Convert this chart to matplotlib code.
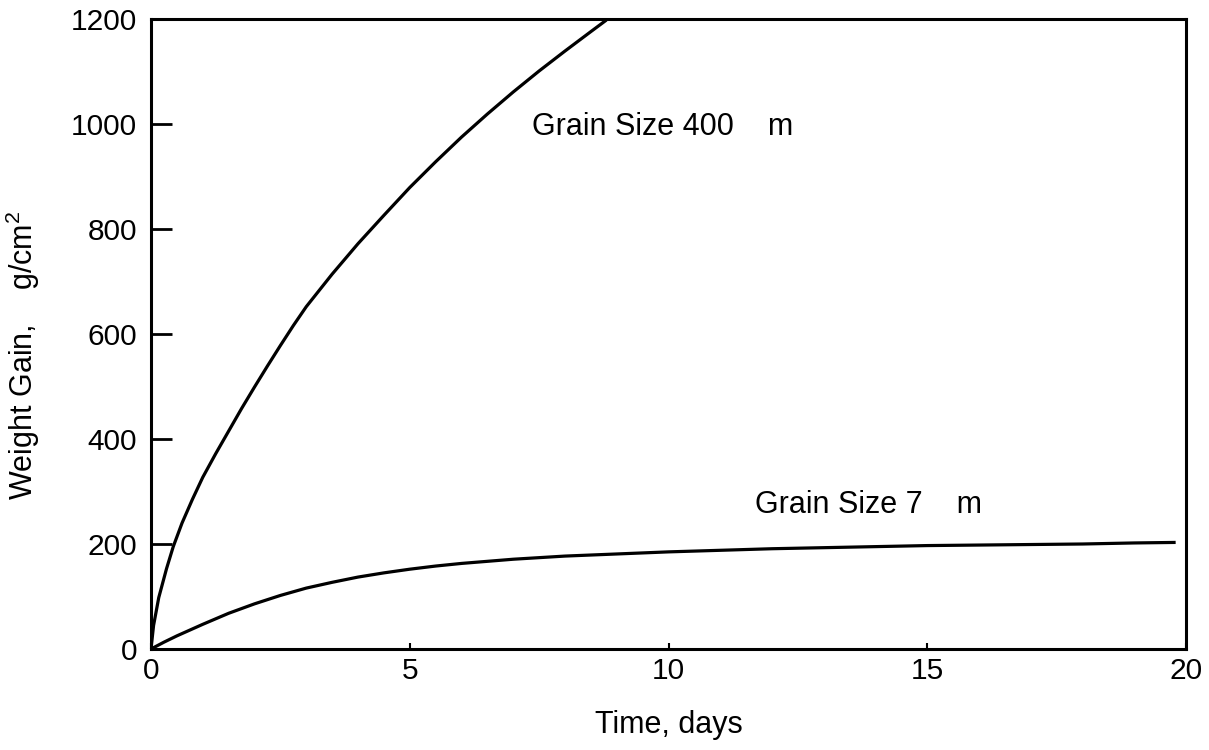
import matplotlib
matplotlib.use("Agg")
import matplotlib.pyplot as plt

plt.rcParams['font.family'] = ['Liberation Sans', 'DejaVu Sans']
plt.rcParams['mathtext.fontset'] = 'custom'
plt.rcParams['mathtext.rm'] = 'Liberation Sans'
plt.rcParams['mathtext.it'] = 'Liberation Sans'

# Data
t_400 = [0, 0.05, 0.15, 0.3, 0.43, 0.6, 0.8, 1.0, 1.25, 1.5, 1.75, 2.0, 2.25, 2.5,
         2.75, 3.0, 3.5, 4.0, 4.5, 5.0, 5.5, 6.0, 6.5, 7.0, 7.5, 8.0, 8.5, 8.8]
w_400 = [0, 45, 98, 153, 195, 240, 285, 327, 372, 415, 458, 499, 539, 578,
         616, 652, 714, 772, 826, 879, 928, 975, 1019, 1061, 1101, 1139, 1176, 1198]

t_7 = [0, 0.25, 0.5, 0.75, 1.0, 1.5, 2.0, 2.5, 3.0, 3.5, 4.0, 4.5, 5.0, 5.5, 6.0,
       6.5, 7.0, 8.0, 9.0, 10, 11, 12, 13, 14, 15, 16, 17, 18, 19, 19.8]
w_7 = [0, 13, 25, 36, 47, 68, 86, 102, 116, 127, 137, 145, 152, 158, 163,
       167, 171, 177, 181, 185, 188, 191, 193, 195, 197, 198, 199, 200, 202, 203]

x_ticks = [0, 5, 10, 15, 20]
y_ticks = [0, 200, 400, 600, 800, 1000, 1200]

label_400 = "Grain Size 400    m"
label_7 = "Grain Size 7    m"

fig = plt.figure(figsize=(12.09, 7.5), dpi=100)
ax = fig.add_axes([151/1209, 1 - 649/750, (1186 - 151)/1209, (649 - 19)/750])

ax.plot(t_400, w_400, color='black', lw=2.3, solid_capstyle='butt', solid_joinstyle='round')
ax.plot(t_7, w_7, color='black', lw=2.3, solid_capstyle='butt', solid_joinstyle='round')

ax.set_xlim(0, 20)
ax.set_ylim(0, 1200)
ax.set_xticks(x_ticks)
ax.set_yticks(y_ticks)
ax.tick_params(axis='y', direction='in', length=15, width=2, labelsize=21.5, pad=10)
ax.tick_params(axis='x', direction='in', length=4, width=1.5, labelsize=21.5, pad=6)
for s in ax.spines.values():
    s.set_linewidth(2.2)

ax.text(7.36, 979, label_400, fontsize=22, ha='left', va='baseline')
ax.text(11.67, 259, label_7, fontsize=22, ha='left', va='baseline')

ax.set_xlabel("Time, days", fontsize=22, labelpad=18)
ax.set_ylabel("Weight Gain,    g/cm$^2$", fontsize=22, labelpad=18)
ax.yaxis.set_label_coords(-0.105, 0.467)

fig.savefig("out.png", dpi=100)
